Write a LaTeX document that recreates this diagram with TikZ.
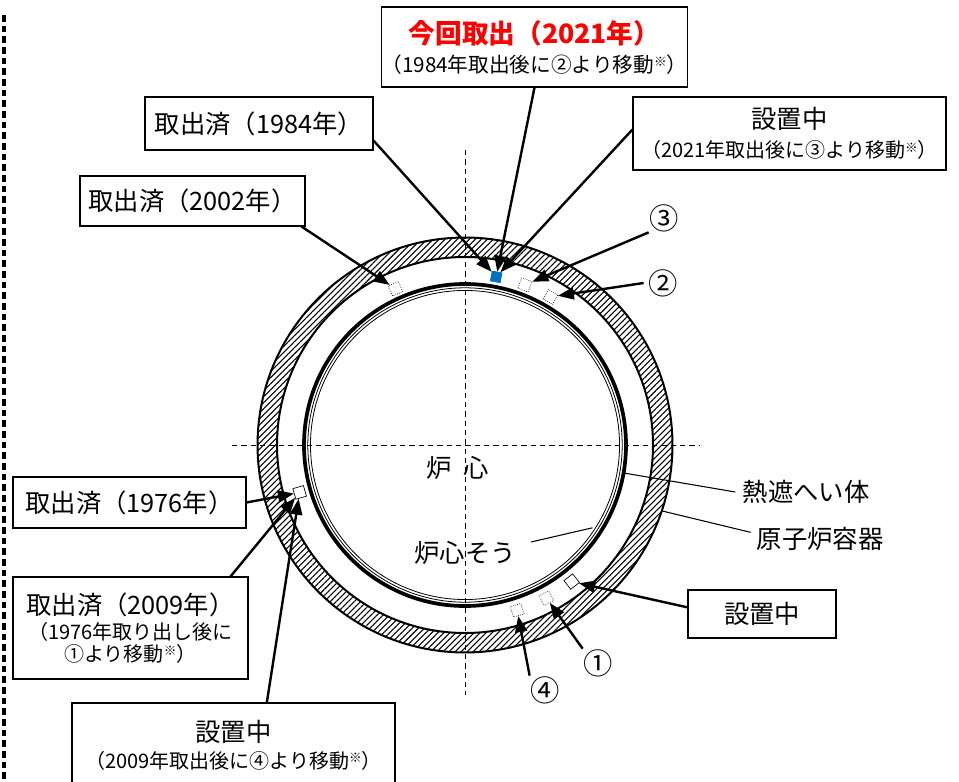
\documentclass[tikz,border=0pt]{standalone}
\usepackage{fontspec}
\setmainfont{Noto Sans CJK JP}
\usetikzlibrary{arrows.meta,patterns.meta,calc}
\definecolor{specblue}{RGB}{0,112,192}
\newcommand{\kome}{\raisebox{0.5ex}{\fontsize{9.5}{9.5}\selectfont ※}}
\begin{document}
\begin{tikzpicture}[x=0.75pt,y=-0.75pt,
		lbl/.style={draw,line width=0.8pt,align=center,inner sep=0pt,font=\fontsize{19}{22}\selectfont},
		two/.style={draw,line width=0.8pt,align=center,inner sep=0pt,font=\fontsize{15}{18}\selectfont},
		big/.style={font=\fontsize{19}{22}\selectfont},
		num/.style={font=\fontsize{22}{24}\selectfont},
		spec/.style={draw,densely dotted,line width=0.5pt,minimum size=8.25pt,inner sep=0pt},
		arr/.style={-{Triangle[length=12pt,width=9pt]},line width=1.8pt},
		lead/.style={line width=0.8pt}]
		    \useasboundingbox (0,0) rectangle (959,781);
		    \coordinate (C) at (465,445);
		    
		    % vessel, thermal shield, core barrel
		    \fill[pattern={Lines[angle=45,distance=3.2pt,line width=0.8pt]},even odd rule] (C) circle[radius=155.6pt] (C) circle[radius=141pt];
		    \draw[line width=1.5pt] (C) circle[radius=155.6pt];
		    \draw[line width=1.5pt] (C) circle[radius=141pt];
		    \draw[line width=2.8pt] (C) circle[radius=120.75pt];
		    \draw[line width=0.6pt] (C) circle[radius=117.9pt];
		    \draw[line width=0.6pt] (C) circle[radius=115.9pt];
		    
		    \draw[line width=0.6pt,dash pattern=on 4pt off 3pt] (465,150)--(465,695);
		    \draw[line width=0.6pt,dash pattern=on 4pt off 3pt] (232,445)--(700,445);
		    \draw[line width=2.8pt,dash pattern=on 5pt off 3pt] (4,15)--(4,781);
		    
		    % specimens
		    \node[spec,rotate=114] (SA) at ($(C)+(114:128.25pt)$) {};
		    \node[spec,solid,draw=specblue,fill=specblue,minimum size=7.5pt,rotate=79.5] (SB) at ($(C)+(79.5:128.25pt)$) {};
		    \node[spec,rotate=69.5] (SC) at ($(C)+(69.5:128.25pt)$) {};
		    \node[spec,rotate=60] (SD) at ($(C)+(60:128.25pt)$) {};
		    \node[spec,solid,fill=white,rotate=196] (SE) at ($(C)+(196:129pt)$) {};
		    \node[spec,solid,fill=white,rotate=-52] (SF) at ($(C)+(-52:130pt)$) {};
		    \node[spec,rotate=-62] (SG) at ($(C)+(-62:130pt)$) {};
		    \node[spec,rotate=-72.5] (SH) at ($(C)+(-72.5:130pt)$) {};
		    
		    % boxes
		    \node[lbl,minimum width=171pt,minimum height=39.75pt] (TA) at (259,123.5) {取出済（1984年）};
		    \node[two,font=\fontsize{15.5}{18}\selectfont,minimum width=228.75pt,minimum height=60pt] (TB) at (534.5,47) {{\fontsize{20}{22}\selectfont\bfseries\color{red}今回取出（2021年）}\\[3.75pt]（1984年取出後に②より移動\kome）};
		    \node[two,minimum width=234.75pt,minimum height=54.75pt] (TC) at (789.5,133.5) {{\fontsize{19}{22}\selectfont 設置中}\\[3.75pt]（2021年取出後に③より移動\kome）};
		    \node[lbl,minimum width=168.75pt,minimum height=37.5pt] (TD) at (192.5,201) {取出済（2002年）};
		    \node[lbl,minimum width=174.75pt,minimum height=38.25pt] (TE) at (129.5,502.5) {取出済（1976年）};
		    \node[two,font=\fontsize{15}{16.5}\selectfont,minimum width=176.25pt,minimum height=76.5pt] (TF) at (130.5,628) {{\fontsize{19}{22}\selectfont 取出済（2009年）}\\[2.25pt]（1976年取り出し後に\\①より移動\kome）};
		    \node[two,minimum width=242.25pt,minimum height=63pt] (TG) at (233.5,745) {{\fontsize{19}{22}\selectfont 設置中}\\[2.25pt]（2009年取出後に④より移動\kome）};
		    \node[lbl,minimum width=111pt,minimum height=36pt] (TH) at (762,614) {設置中};
		    
		    % labels
		    \node[num] (LA) at (664,218) {③};
		    \node[num] (LB) at (663,283) {②};
		    \node[num] (LC) at (598,663) {①};
		    \node[num] (LD) at (545,690) {④};
		    \node[big] (LE) at (806,492) {熱遮へい体};
		    \node[big] (LF) at (820,539) {原子炉容器};
		    \node[big] (LG) at (465,553) {炉心そう};
		    \node[big] (LH) at (458,468) {炉\hspace{0.45em}心};
		    
		    \coordinate (HA) at ($(C)+(-10:121.5pt)$);
		    \coordinate (HB) at ($(C)+(-18.5:156pt)$);
		    \coordinate (HC) at ($(C)+(-33:114pt)$);
		    \draw[lead] (HA)--([xshift=-2pt]LE.west);
		    \draw[lead] (HB)--([shift={(-1pt,5pt)}]LF.west);
		    \draw[lead] ([xshift=8pt,yshift=-4pt]LG.north east)--(HC);
		    
		    \draw[arr] ([yshift=7.5pt]TA.south east)--(SB);
		    \draw[arr] (TB.south)--(SB);
		    \draw[arr] ([yshift=3pt]TC.west)--(SB);
		    \draw[arr] ([shift={(3pt,3pt)}]LA.south west)--(SC);
		    \draw[arr] (LB.west)--(SD);
		    \draw[arr] ([xshift=-3pt]TD.south east)--(SA);
		    \draw[arr] (TE.east)--(SE);
		    \draw[arr] ([xshift=-13.5pt]TF.north east)--(SE);
		    \draw[arr] ([xshift=25pt]TG.north)--(SE);
		    \draw[arr] ([yshift=5pt]TH.west)--(SF);
		    \draw[arr] ([shift={(3pt,-3pt)}]LC.north west)--(SG);
		    \draw[arr] ([shift={(3pt,-3pt)}]LD.north west)--(SH);
		    \end{tikzpicture}
\end{document}
